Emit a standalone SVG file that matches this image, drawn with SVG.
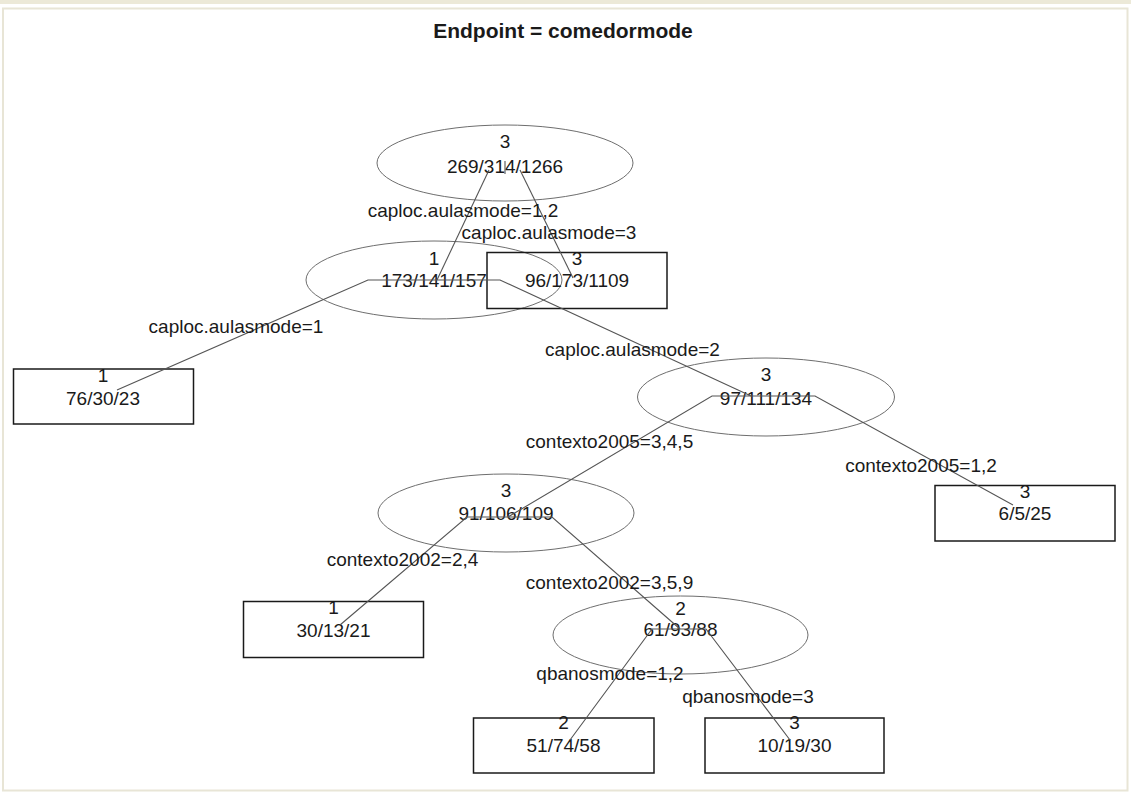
<svg xmlns="http://www.w3.org/2000/svg" width="1131" height="794" viewBox="0 0 1131 794">
  <style>
    text { font-family: "Liberation Sans", Arial, sans-serif; fill: #1a1a1a; }
    .t { font-size: 19px; text-anchor: middle; }
    .title { font-size: 21px; font-weight: bold; text-anchor: middle; }
    .ell { fill: none; stroke: #6e6e6e; stroke-width: 1; }
    .box { fill: none; stroke: #1a1a1a; stroke-width: 1.5; }
    .edge { fill: none; stroke: #555; stroke-width: 1.1; }
  </style>
  <rect x="0" y="0" width="1131" height="794" fill="#ffffff"/>
  <rect x="0" y="0" width="1131" height="4" fill="#ece9d8"/>
  <rect x="3" y="8.5" width="1124.5" height="782" fill="none" stroke="#e8e5d6" stroke-width="2"/>
  <text class="title" x="563" y="38">Endpoint = comedormode</text>

  <g id="n1">
    <ellipse class="ell" cx="505" cy="163" rx="128" ry="38"/>
    <text class="t" x="505" y="148">3</text>
    <text class="t" x="505" y="173">269/314/1266</text>
  </g>
  <g id="n2">
    <ellipse class="ell" cx="434" cy="280" rx="128" ry="39"/>
    <text class="t" x="434" y="265">1</text>
    <text class="t" x="434" y="287">173/141/157</text>
  </g>
  <g id="n3">
    <rect class="box" x="487" y="252.5" width="180" height="56"/>
    <text class="t" x="577" y="265">3</text>
    <text class="t" x="577" y="287">96/173/1109</text>
  </g>
  <g id="n4">
    <rect class="box" x="13.5" y="369" width="180" height="55"/>
    <text class="t" x="103" y="382">1</text>
    <text class="t" x="103" y="405">76/30/23</text>
  </g>
  <g id="n5">
    <ellipse class="ell" cx="766" cy="397" rx="128.5" ry="39"/>
    <text class="t" x="766" y="381">3</text>
    <text class="t" x="766" y="405">97/111/134</text>
  </g>
  <g id="n6">
    <ellipse class="ell" cx="506" cy="513" rx="128" ry="39"/>
    <text class="t" x="506" y="497">3</text>
    <text class="t" x="506" y="520">91/106/109</text>
  </g>
  <g id="n7">
    <rect class="box" x="935" y="485.5" width="180" height="55.5"/>
    <text class="t" x="1025" y="498">3</text>
    <text class="t" x="1025" y="520">6/5/25</text>
  </g>
  <g id="n8">
    <rect class="box" x="243.5" y="601.5" width="180" height="56"/>
    <text class="t" x="333.5" y="614">1</text>
    <text class="t" x="333.5" y="637">30/13/21</text>
  </g>
  <g id="n9">
    <ellipse class="ell" cx="680.5" cy="635" rx="127.5" ry="39"/>
    <text class="t" x="680.5" y="615">2</text>
    <text class="t" x="680.5" y="636">61/93/88</text>
  </g>
  <g id="n10">
    <rect class="box" x="473.5" y="718" width="180.5" height="55"/>
    <text class="t" x="563.5" y="729">2</text>
    <text class="t" x="563.5" y="752">51/74/58</text>
  </g>
  <g id="n11">
    <rect class="box" x="705" y="718" width="179" height="55"/>
    <text class="t" x="794.5" y="729">3</text>
    <text class="t" x="794.5" y="752">10/19/30</text>
  </g>

  <g id="connectors">
    <line class="edge" x1="505" y1="161" x2="505" y2="174"/>
    <polyline class="edge" points="437,280 489,170"/>
    <polyline class="edge" points="520,170 573,278"/>
    <polyline class="edge" points="117,390 368,280 500,280 751,396"/>
    <polyline class="edge" points="508,517 712,396 815,396 1013,505"/>
    <polyline class="edge" points="340,625 467,517 552,517 680,629"/>
    <polyline class="edge" points="570,740 652,629 706,629 790,740"/>
  </g>

  <g id="edge-labels">
    <text class="t" x="463" y="217">caploc.aulasmode=1,2</text>
    <text class="t" x="549" y="239">caploc.aulasmode=3</text>
    <text class="t" x="236" y="333">caploc.aulasmode=1</text>
    <text class="t" x="632.5" y="356">caploc.aulasmode=2</text>
    <text class="t" x="609.5" y="448">contexto2005=3,4,5</text>
    <text class="t" x="921" y="472">contexto2005=1,2</text>
    <text class="t" x="402.5" y="566">contexto2002=2,4</text>
    <text class="t" x="609.5" y="589">contexto2002=3,5,9</text>
    <text class="t" x="610" y="680">qbanosmode=1,2</text>
    <text class="t" x="748" y="703">qbanosmode=3</text>
  </g>
</svg>
